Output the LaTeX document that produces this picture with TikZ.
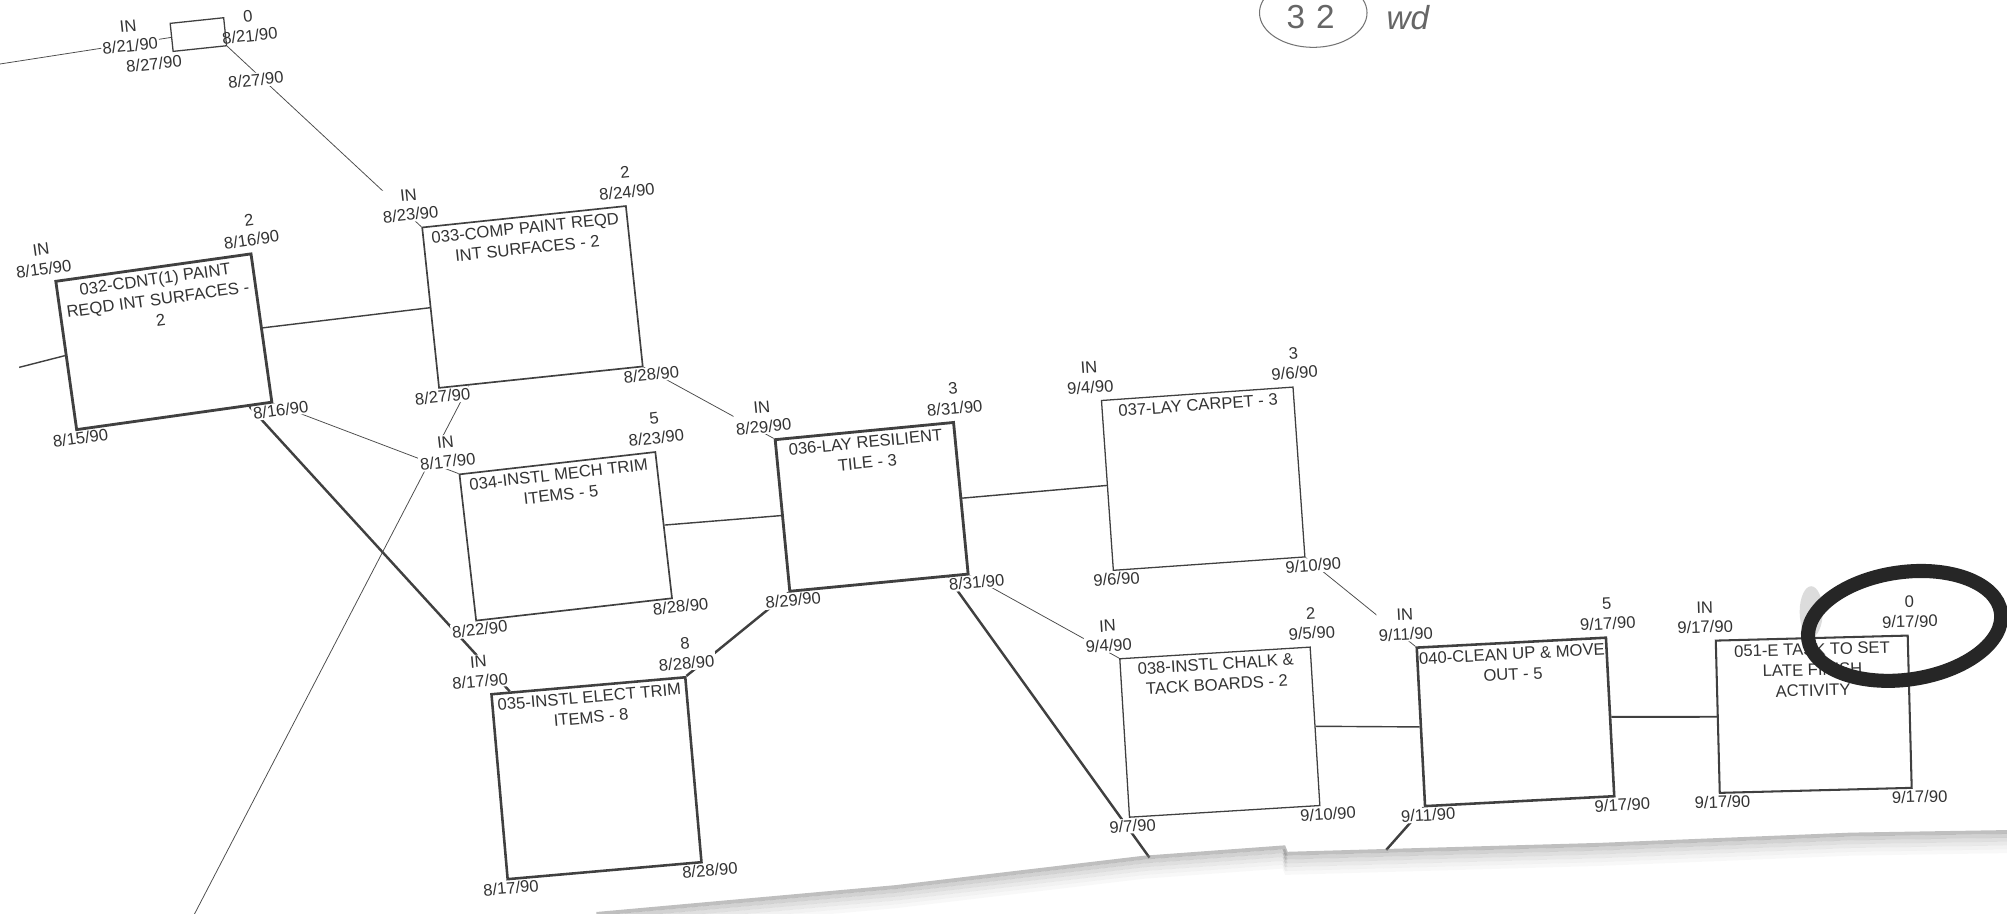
\documentclass[tikz,border=0pt]{standalone}
\usepackage{fontspec}
\setmainfont{Liberation Sans}
\usetikzlibrary{calc,backgrounds}

\tikzset{
  actbox/.style={draw=black!75, inner sep=0pt, transform shape},
  acttext/.style={font=\fontsize{13}{16}\selectfont, text=black!80, align=center, anchor=north, inner sep=1pt, transform shape},
  datelbl/.style={font=\fontsize{13}{15.5}\selectfont, text=black!80, align=center, fill=white, inner sep=1pt, transform shape},
  thinlink/.style={draw=black!70, line width=0.6pt},
  midlink/.style={draw=black!75, line width=1.1pt},
  critlink/.style={draw=black!75, line width=1.9pt},
  hand/.style={font=\fontsize{26}{26}\selectfont, text=black!60, inner sep=0pt},
}

\begin{document}
\begin{tikzpicture}[x=1pt,y=-1pt]
\useasboundingbox (0,0) rectangle (1568,714);

% activity boxes: name/x/y/width/height/tilt/line width/text/duration/ES/EF/LS/LF
\foreach \n/\x/\y/\w/\h/\a/\lw/\txt/\dur/\es/\ef/\ls/\lf in {
  b032/128/267/154/117/8/2.2/{032-CDNT(1) PAINT\\REQD INT SURFACES -\\2}/2/{8/15/90}/{8/16/90}/{8/15/90}/{8/16/90},
  b033/416/232/160/126/6/1.3/{033-COMP PAINT REQD\\INT SURFACES - 2}/2/{8/23/90}/{8/24/90}/{8/27/90}/{8/28/90},
  b034/442/419/154/115/6.5/1.3/{034-INSTL MECH TRIM\\ITEMS - 5}/5/{8/17/90}/{8/23/90}/{8/22/90}/{8/28/90},
  b035/466/608/152/145/5/2/{035-INSTL ELECT TRIM\\ITEMS - 8}/8/{8/17/90}/{8/28/90}/{8/17/90}/{8/28/90},
  b036/681/396/140/119/5.5/2.2/{036-LAY RESILIENT\\TILE - 3}/3/{8/29/90}/{8/31/90}/{8/29/90}/{8/31/90},
  b037/940/374/150/133/4/1/{037-LAY CARPET - 3}/3/{9/4/90}/{9/6/90}/{9/6/90}/{9/10/90},
  b038/953/572/149/124/3.5/1/{038-INSTL CHALK \&\\TACK BOARDS - 2}/2/{9/4/90}/{9/5/90}/{9/7/90}/{9/10/90},
  b040/1184/564/148/124/3/2/{040-CLEAN UP \& MOVE\\OUT - 5}/5/{9/11/90}/{9/17/90}/{9/11/90}/{9/17/90},
  b051/1417/558/150/119/1.5/1.6/{051-E TASK TO SET\\LATE FINISH\\ACTIVITY}/0/{9/17/90}/{9/17/90}/{9/17/90}/{9/17/90}}
{
  \begin{scope}[shift={(\x,\y)}, rotate=\a]
    \node[datelbl, anchor=south] (\n-es) at (-\w/2-8, -\h/2-5) {IN\\\es};
    \node[datelbl, anchor=south] (\n-ef) at (\w/2+2, -\h/2-5) {\dur\\\ef};
    \node[datelbl, anchor=north] (\n-ls) at (-\w/2+2, \h/2+1) {\ls};
    \node[datelbl, anchor=north] (\n-lf) at (\w/2+6, \h/2+1) {\lf};
    \node[actbox, line width=\lw pt, minimum width=\w pt, minimum height=\h pt] (\n) at (0,0) {};
    \node[acttext] (\n-txt) at (0,-\h/2+3) {\txt};
  \end{scope}
}

% small milestone box top left
\begin{scope}[shift={(155,27)}, rotate=6]
  \node[datelbl, anchor=south east] (b000-es) at (-31,9) {IN\\8/21/90};
  \node[datelbl, anchor=south west] (b000-ef) at (17,11) {0\\8/21/90};
  \node[datelbl, anchor=north east] (b000-ls) at (-14,13) {8/27/90};
  \node[datelbl, anchor=north west] (b000-lf) at (18,34) {8/27/90};
  \node[actbox, line width=1pt, minimum width=42pt, minimum height=22pt] (b000) at (0,0) {};
\end{scope}

% loose ends
\coordinate (inA) at (0,50);
\coordinate (inB) at (15,287);
\coordinate (outA) at (152,714);
\coordinate (outB) at (898,670);
\coordinate (outC) at (1083,664);

% links
\begin{scope}[on background layer]
  \fill[white] (0,0) rectangle (1568,714);
  \draw[thinlink] (inA) -- (b000.west);
  \draw[thinlink] (b000.south east) -- (b033.north west);
  \draw[midlink] (inB) -- (b032.west);
  \draw[midlink] (b032.east) -- (b033.west);
  \draw[thinlink] (b032.south east) -- (b034.north west);
  \draw[critlink] ($(b032.south east)!0.12!(b032.south west)$) -- ($(b035.north west)!0.1!(b035.north east)$);
  \draw[thinlink] (b033.south east) -- (b036.north west);
  \draw[thinlink] ($(b033.south west)!0.15!(b033.south east)$) -- (outA);
  \draw[midlink] (b034.east) -- (b036.west);
  \draw[critlink] (b035.north east) -- (b036.south west);
  \draw[midlink] (b036.east) -- (b037.west);
  \draw[critlink] ($(b036.south east)!0.12!(b036.south west)$) -- (outB);
  \draw[thinlink] (b036.south east) -- (b038.north west);
  \draw[thinlink] (b037.south east) -- (b040.north west);
  \draw[midlink] (b038.east) -- (b040.west);
  \draw[critlink, line width=1.5pt] (b040.east) -- (b051.west);
  \draw[critlink] (b040.south west) -- (outC);
\end{scope}

% torn paper edge
\foreach \k/\o in {0/0.5,1/0.35,2/0.25,3/0.17,4/0.1,5/0.05}
  \draw[gray, line width=3pt, opacity=\o, yshift=-\k*3pt]
    (466,714) -- (700,693) -- (894,670) -- (1003,662) -- (1005,667) -- (1250,660) -- (1446,652) -- (1568,650);

% handwritten note and marker ring
\draw[black!55, line width=0.8pt] (1026,10) ellipse (42 and 27);
\node[hand] (hw32) at (1024,13) {3\,\,2};
\node[hand, font=\itshape\fontsize{26}{26}\selectfont] (hwwd) at (1100,14) {wd};
\fill[gray!45, opacity=0.6] (1415,478) ellipse (9 and 20);
\draw[black!85, line width=11pt, rotate around={8:(1488,489)}] (1488,489) ellipse (76 and 42);

\end{tikzpicture}
\end{document}
